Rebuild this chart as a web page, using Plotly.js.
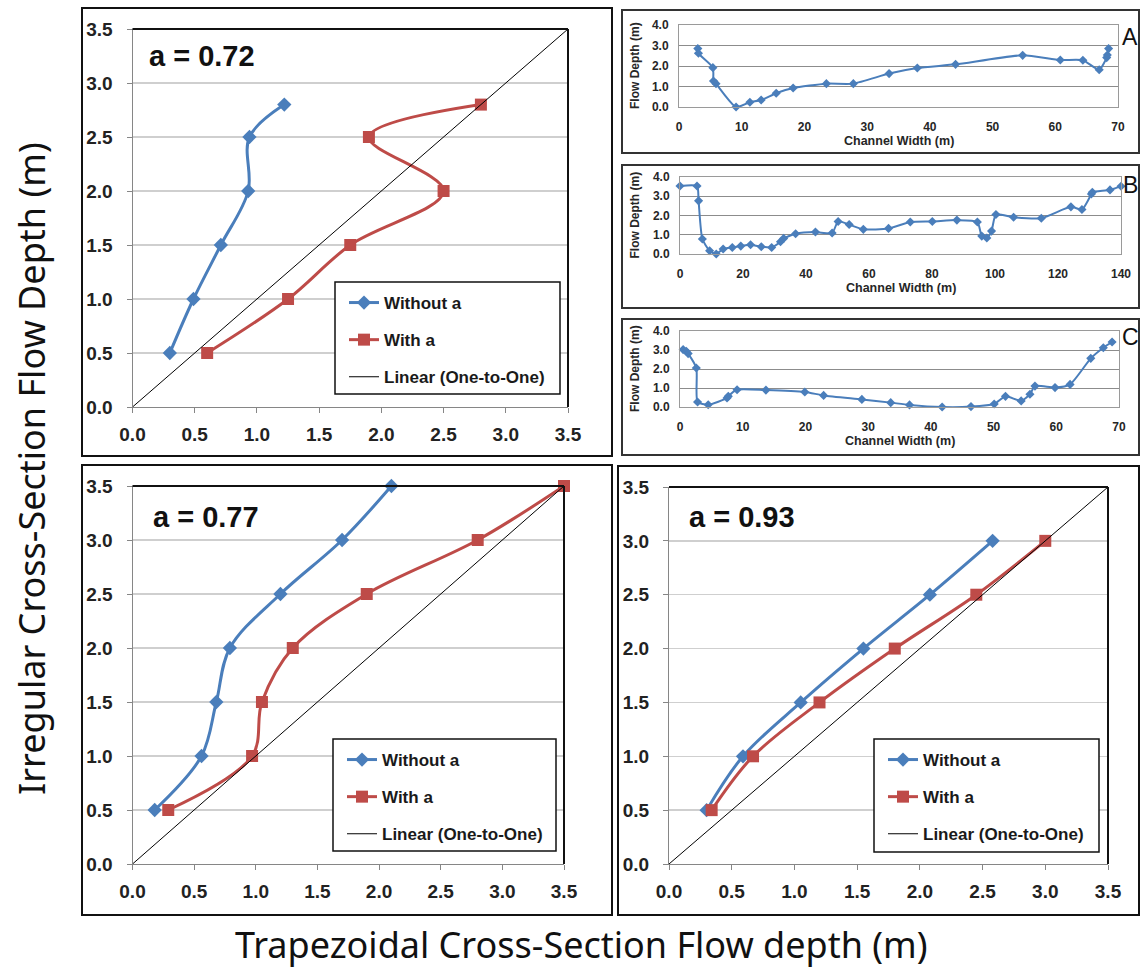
<!DOCTYPE html>
<html><head><meta charset="utf-8">
<script src="https://cdn.plot.ly/plotly-3.0.1.min.js"></script>
<style>html,body{margin:0;padding:0;background:#fff}#chart{width:1140px;height:973px}</style>
</head><body><div id="chart"></div>
<script>
// ---------- DATA ----------
const p72_depth   = [0.5, 1.0, 1.5, 2.0, 2.5, 2.8];
const p72_without = [0.30, 0.49, 0.71, 0.93, 0.94, 1.22];
const p72_with    = [0.60, 1.25, 1.75, 2.50, 1.90, 2.80];

const p77_depth   = [0.5, 1.0, 1.5, 2.0, 2.5, 3.0, 3.5];
const p77_without = [0.18, 0.56, 0.68, 0.79, 1.20, 1.70, 2.10];
const p77_with    = [0.29, 0.97, 1.05, 1.30, 1.90, 2.80, 3.50];

const p93_depth   = [0.5, 1.0, 1.5, 2.0, 2.5, 3.0];
const p93_without = [0.30, 0.59, 1.05, 1.55, 2.08, 2.58];
const p93_with    = [0.34, 0.67, 1.20, 1.80, 2.45, 3.00];

const oneToOne = [0, 3.5];

const secA_width = [3.0, 3.1, 5.4, 5.5, 5.9, 9.1, 11.3, 13.1, 15.5, 18.2, 23.5, 27.8, 33.5, 38.0, 44.1, 54.8, 60.8, 64.4, 67.0, 68.2, 68.3, 68.5];
const secA_depth = [2.85, 2.62, 1.92, 1.27, 1.14, 0.0, 0.23, 0.34, 0.67, 0.93, 1.14, 1.14, 1.63, 1.90, 2.08, 2.52, 2.29, 2.28, 1.82, 2.41, 2.54, 2.85];

const secB_width = [0, 5.4, 5.9, 7.1, 9.4, 11.5, 13.7, 16.6, 19.3, 22.4, 25.8, 29.1, 31.9, 32.9, 36.7, 43.0, 48.3, 50.2, 53.7, 58.2, 66.2, 73.1, 80.1, 87.9, 94.4, 95.8, 97.4, 98.9, 100.3, 105.9, 114.7, 124.1, 127.6, 130.6, 130.9, 136.5, 140];
const secB_depth = [3.53, 3.53, 2.76, 0.78, 0.17, 0.0, 0.26, 0.34, 0.41, 0.48, 0.38, 0.34, 0.64, 0.81, 1.05, 1.14, 1.09, 1.69, 1.53, 1.28, 1.33, 1.66, 1.69, 1.76, 1.66, 0.93, 0.83, 1.19, 2.05, 1.91, 1.86, 2.45, 2.31, 3.12, 3.21, 3.33, 3.52];

const secC_width = [0.5, 1.0, 1.3, 2.6, 2.8, 4.5, 7.5, 7.7, 9.1, 13.7, 19.9, 22.9, 29.0, 33.6, 36.6, 41.8, 46.4, 50.1, 51.9, 54.4, 55.8, 56.6, 59.8, 62.2, 65.5, 67.5, 68.9];
const secC_depth = [3.02, 2.93, 2.81, 2.05, 0.26, 0.12, 0.47, 0.56, 0.91, 0.89, 0.79, 0.61, 0.40, 0.23, 0.11, 0.0, 0.02, 0.16, 0.56, 0.32, 0.67, 1.10, 1.02, 1.19, 2.56, 3.12, 3.42];

const bigTicks = [0, 0.5, 1.0, 1.5, 2.0, 2.5, 3.0, 3.5];
const smallYTicks = [0, 1, 2, 3, 4];
const panelLabels = ['a = 0.72', 'a = 0.77', 'a = 0.93'];
const sectionLabels = ['A', 'B', 'C'];
const seriesNames = ['Without a', 'With a', 'Linear (One-to-One)'];

// ---------- LAYOUT HELPERS ----------
const W = 1140, H = 973;
const fx = p => p / W;
const fy = p => 1 - p / H;
const BLUE = '#4A7EBB', RED = '#BE4B48';
const BOLD = {family: 'Liberation Sans, Arial, sans-serif', weight: 700};

const data = [];
const layout = {
  width: W, height: H, margin: {l: 0, r: 0, t: 0, b: 0},
  paper_bgcolor: '#fff', plot_bgcolor: '#fff', showlegend: true,
  shapes: [], annotations: []
};

const bigPanels = [
  {s: '', x0: 132.5, x1: 568, y0: 29, y1: 407, depth: p72_depth, wo: p72_without, wi: p72_with,
   leg: [335, 282, 560, 394], lab: [147, 56], frame: [82, 8, 612, 456]},
  {s: '2', x0: 132.5, x1: 564, y0: 486, y1: 864, depth: p77_depth, wo: p77_without, wi: p77_with,
   leg: [333, 739, 556, 851], lab: [151, 517], frame: [82, 465, 612, 915]},
  {s: '3', x0: 669, x1: 1108, y0: 487, y1: 864, depth: p93_depth, wo: p93_without, wi: p93_with,
   leg: [874, 739, 1099, 852], lab: [687, 517], frame: [618, 466, 1139, 915]}
];

bigPanels.forEach((p, i) => {
  const xa = 'x' + p.s, ya = 'y' + p.s;
  const legName = i === 0 ? 'legend' : 'legend' + (i + 1);
  layout['xaxis' + p.s] = {
    domain: [fx(p.x0), fx(p.x1)], anchor: ya, range: [0, 3.5], tickvals: bigTicks, tickformat: '.1f',
    showgrid: false, zeroline: false, showline: true, linecolor: '#868686', linewidth: 1,
    ticks: 'outside', ticklen: 5, tickcolor: '#868686', ticklabelstandoff: 5,
    tickfont: Object.assign({size: 19, color: '#222'}, BOLD), fixedrange: true
  };
  layout['yaxis' + p.s] = {
    domain: [fy(p.y1), fy(p.y0)], anchor: xa, range: [0, 3.5], tickvals: bigTicks, tickformat: '.1f',
    showgrid: true, gridcolor: '#cfcfcf', gridwidth: 1.5, zeroline: false, showline: true,
    linecolor: '#868686', linewidth: 1, ticks: 'outside', ticklen: 5, tickcolor: '#868686',
    ticklabelstandoff: 10, tickfont: Object.assign({size: 19, color: '#222'}, BOLD), fixedrange: true
  };
  data.push({x: p.wo, y: p.depth, xaxis: xa, yaxis: ya, type: 'scatter', mode: 'lines+markers',
    name: seriesNames[0], legend: legName, legendgroup: 'g1' + i, cliponaxis: false,
    line: {color: BLUE, width: 3, shape: 'spline', smoothing: 1},
    marker: {symbol: 'diamond', size: 11, color: BLUE}});
  data.push({x: p.wi, y: p.depth, xaxis: xa, yaxis: ya, type: 'scatter', mode: 'lines+markers',
    name: seriesNames[1], legend: legName, legendgroup: 'g2' + i, cliponaxis: false,
    line: {color: RED, width: 3, shape: 'spline', smoothing: 1},
    marker: {symbol: 'square', size: 12, color: RED}});
  data.push({x: oneToOne, y: oneToOne, xaxis: xa, yaxis: ya, type: 'scatter', mode: 'lines',
    name: seriesNames[2], legend: legName, legendgroup: 'g3' + i,
    line: {color: '#000', width: 1}});
  layout.shapes.push({type: 'line', xref: 'paper', yref: 'paper', x0: fx(p.x0), x1: fx(p.x1), y0: fy(p.y0), y1: fy(p.y0), line: {color: '#111', width: 2}});
  layout.shapes.push({type: 'line', xref: 'paper', yref: 'paper', x0: fx(p.x1), x1: fx(p.x1), y0: fy(p.y0), y1: fy(p.y1), line: {color: '#111', width: 2}});
  layout.shapes.push({type: 'rect', xref: 'paper', yref: 'paper', layer: 'above',
    x0: fx(p.leg[0]), x1: fx(p.leg[2]), y0: fy(p.leg[1]), y1: fy(p.leg[3]),
    fillcolor: '#fff', line: {color: '#111', width: 1.5}});
  layout[legName] = {
    x: fx(p.leg[0] + 9), y: fy(p.leg[1] + 3), xanchor: 'left', yanchor: 'top',
    bgcolor: 'rgba(0,0,0,0)', borderwidth: 0, traceorder: 'grouped', tracegroupgap: 12,
    font: Object.assign({size: 17, color: '#1a1a1a'}, BOLD)
  };
  layout.shapes.push({type: 'rect', xref: 'paper', yref: 'paper', layer: 'below',
    x0: fx(p.frame[0]), x1: fx(p.frame[2]), y0: fy(p.frame[1]), y1: fy(p.frame[3]),
    line: {color: '#111', width: 2}});
  layout.annotations.push({xref: 'paper', yref: 'paper', x: fx(p.lab[0]), y: fy(p.lab[1]),
    xanchor: 'left', yanchor: 'middle', showarrow: false, text: panelLabels[i],
    font: Object.assign({size: 29, color: '#111'}, BOLD)});
});

const smallPanels = [
  {s: '4', x0: 679, x1: 1118, y0: 25, y1: 107, w: secA_width, d: secA_depth, xr: [0, 70], dt: 10,
   frame: [622, 10, 1139, 153], letter: [1120, 37]},
  {s: '5', x0: 680, x1: 1121, y0: 177, y1: 254, w: secB_width, d: secB_depth, xr: [0, 140], dt: 20,
   frame: [622, 165, 1139, 308], letter: [1121, 185]},
  {s: '6', x0: 680, x1: 1119, y0: 331, y1: 407, w: secC_width, d: secC_depth, xr: [0, 70], dt: 10,
   frame: [622, 319, 1139, 455], letter: [1120, 337]}
];
smallPanels.forEach((p, i) => {
  const xa = 'x' + p.s, ya = 'y' + p.s;
  layout['xaxis' + p.s] = {
    domain: [fx(p.x0), fx(p.x1)], anchor: ya, range: p.xr, dtick: p.dt, tick0: 0,
    showgrid: false, zeroline: false, showline: true, mirror: true, linecolor: '#9a9a9a', linewidth: 1,
    ticks: '', ticklabelstandoff: 9, tickfont: Object.assign({size: 12, color: '#262626'}, BOLD), fixedrange: true
  };
  layout['yaxis' + p.s] = {
    domain: [fy(p.y1), fy(p.y0)], anchor: xa, range: [0, 4], tickvals: smallYTicks, tickformat: '.1f',
    showgrid: true, gridcolor: '#8c8c8c', gridwidth: 1, zeroline: false, showline: true, mirror: true,
    linecolor: '#9a9a9a', linewidth: 1, ticks: '', ticklabelstandoff: 7,
    tickfont: Object.assign({size: 12, color: '#262626'}, BOLD), fixedrange: true
  };
  data.push({x: p.w, y: p.d, xaxis: xa, yaxis: ya, type: 'scatter', mode: 'lines+markers', showlegend: false,
    cliponaxis: false,
    line: {color: BLUE, width: 2, shape: 'spline', smoothing: 0.6},
    marker: {symbol: 'diamond', size: 7, color: BLUE}});
  layout.shapes.push({type: 'rect', xref: 'paper', yref: 'paper', layer: 'below',
    x0: fx(p.frame[0]), x1: fx(p.frame[2]), y0: fy(p.frame[1]), y1: fy(p.frame[3]),
    line: {color: '#333', width: 2}});
  layout.annotations.push({xref: 'paper', yref: 'paper', x: fx((p.x0 + p.x1) / 2), y: fy(p.y1 + 34),
    xanchor: 'center', yanchor: 'middle', showarrow: false, text: 'Channel Width (m)',
    font: Object.assign({size: 12.5, color: '#262626'}, BOLD)});
  layout.annotations.push({xref: 'paper', yref: 'paper', x: fx(635), y: fy((p.y0 + p.y1) / 2),
    xanchor: 'center', yanchor: 'middle', showarrow: false, text: 'Flow Depth (m)', textangle: -90,
    font: Object.assign({size: 12, color: '#262626'}, BOLD)});
  layout.annotations.push({xref: 'paper', yref: 'paper', x: fx(p.letter[0]), y: fy(p.letter[1]),
    xanchor: 'left', yanchor: 'middle', showarrow: false, text: sectionLabels[i],
    font: {family: 'Liberation Sans, Arial, sans-serif', size: 23, color: '#111'}});
});

layout.annotations.push({xref: 'paper', yref: 'paper', x: fx(31), y: fy(469), xanchor: 'center', yanchor: 'middle',
  showarrow: false, textangle: -90, text: 'Irregular Cross-Section Flow Depth (m)',
  font: {family: 'Noto Sans, Open Sans, sans-serif', size: 36, color: '#111'}});
layout.annotations.push({xref: 'paper', yref: 'paper', x: fx(581), y: fy(944), xanchor: 'center', yanchor: 'middle',
  showarrow: false, text: 'Trapezoidal Cross-Section Flow depth (m)',
  font: {family: 'Noto Sans, Open Sans, sans-serif', size: 36, color: '#111'}});

Plotly.newPlot('chart', data, layout, {staticPlot: true, displayModeBar: false});
</script></body></html>
